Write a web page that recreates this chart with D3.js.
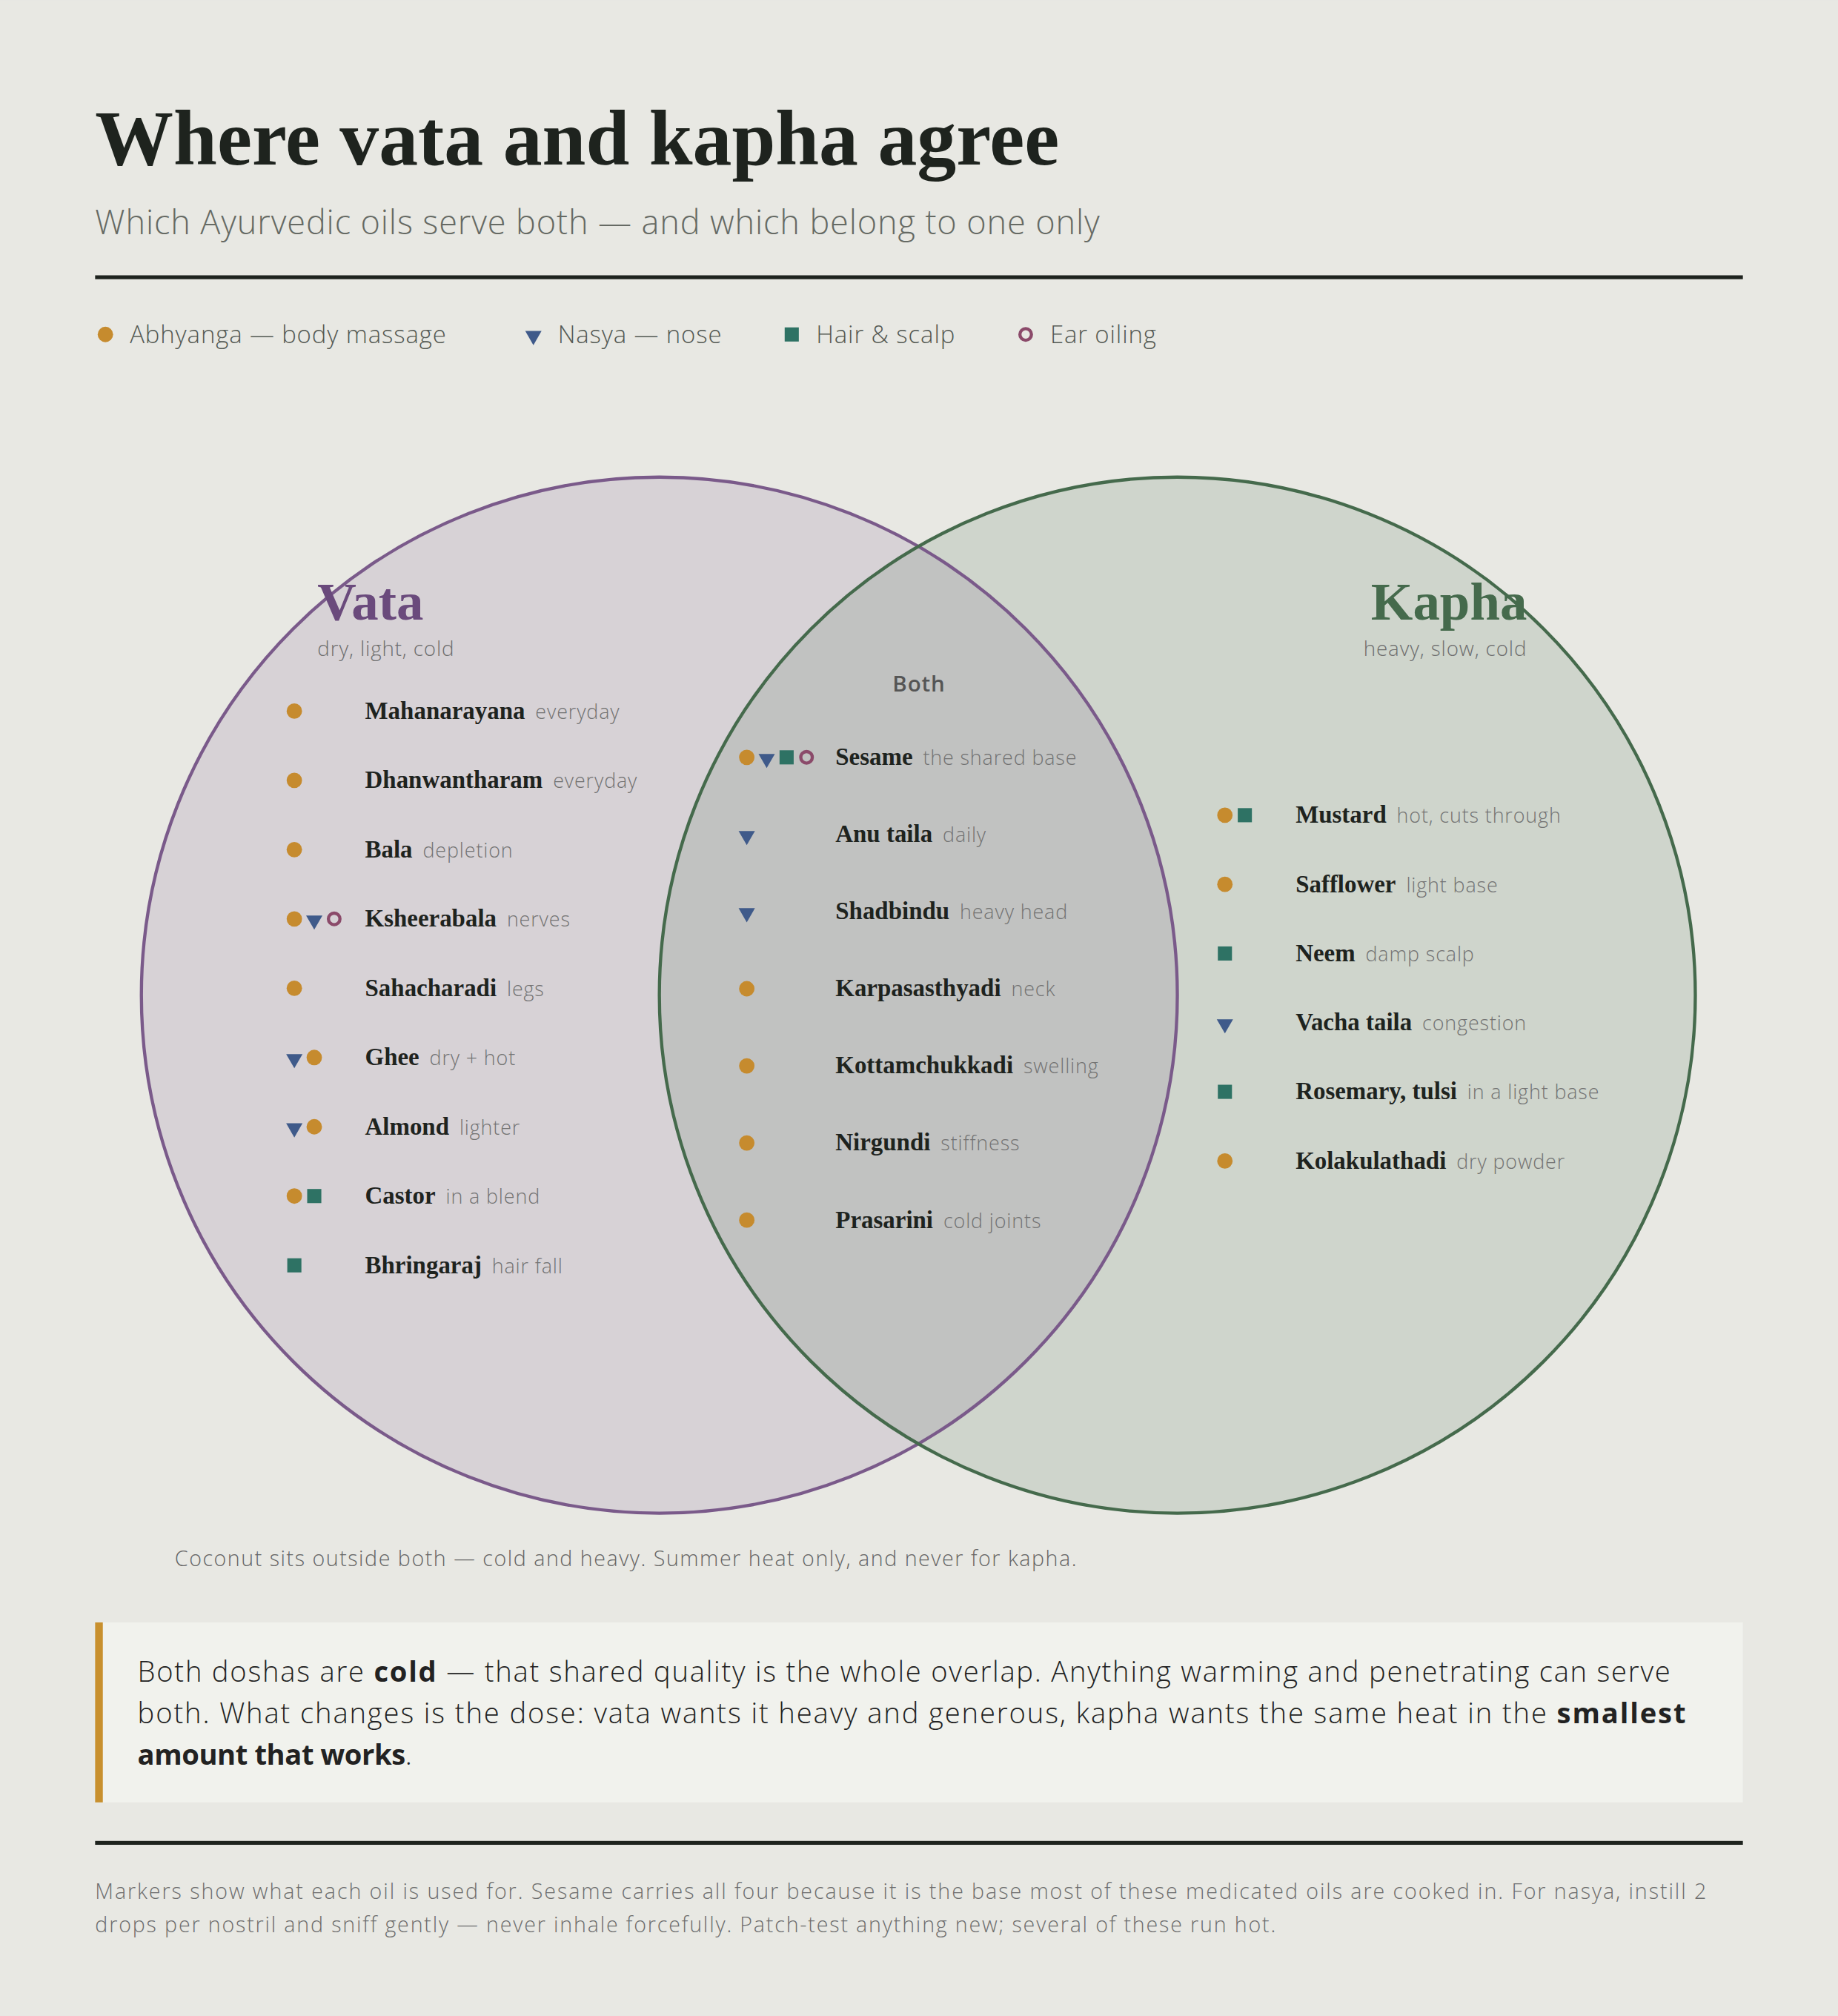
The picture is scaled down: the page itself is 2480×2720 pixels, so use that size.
<!DOCTYPE html>
<html><head><meta charset="utf-8">
<script src="https://cdn.jsdelivr.net/npm/d3@7"></script>
<style>
body{margin:0;background:#e8e8e3;}
.serif{font-family:"Liberation Serif","DejaVu Serif",serif;}
.sans{font-family:"Open Sans",Lato,sans-serif;letter-spacing:0.5px;}
</style></head>
<body><div id="chart"></div>
<script>
// marker codes: a = abhyanga, n = nasya, h = hair, e = ear
var legendKeys = ["a", "n", "h", "e"];
var legendLabels = ["Abhyanga — body massage", "Nasya — nose", "Hair & scalp", "Ear oiling"];

var vataNames = ["Mahanarayana", "Dhanwantharam", "Bala", "Ksheerabala", "Sahacharadi", "Ghee", "Almond", "Castor", "Bhringaraj"];
var vataNotes = ["everyday", "everyday", "depletion", "nerves", "legs", "dry + hot", "lighter", "in a blend", "hair fall"];
var vataUses = [["a"], ["a"], ["a"], ["a", "n", "e"], ["a"], ["n", "a"], ["n", "a"], ["a", "h"], ["h"]];

var bothNames = ["Sesame", "Anu taila", "Shadbindu", "Karpasasthyadi", "Kottamchukkadi", "Nirgundi", "Prasarini"];
var bothNotes = ["the shared base", "daily", "heavy head", "neck", "swelling", "stiffness", "cold joints"];
var bothUses = [["a", "n", "h", "e"], ["n"], ["n"], ["a"], ["a"], ["a"], ["a"]];

var kaphaNames = ["Mustard", "Safflower", "Neem", "Vacha taila", "Rosemary, tulsi", "Kolakulathadi"];
var kaphaNotes = ["hot, cuts through", "light base", "damp scalp", "congestion", "in a light base", "dry powder"];
var kaphaUses = [["a", "h"], ["a"], ["h"], ["n"], ["h"], ["a"]];

var W = 1430, H = 1568;
var col = {a: "#c68b2e", n: "#3f5a8a", h: "#2e7264", e: "#8b4a6a"};

var svg = d3.select("#chart").append("svg")
    .attr("width", 2480).attr("height", 2720)
    .attr("viewBox", "0 0 " + W + " " + H);
svg.append("rect").attr("width", W).attr("height", H).attr("fill", "#e8e8e3");

svg.append("text").attr("class", "serif").attr("x", 74).attr("y", 128)
    .attr("font-size", 61).attr("font-weight", 700).attr("fill", "#1e231e")
    .text("Where vata and kapha agree");
svg.append("text").attr("class", "sans").attr("x", 74).attr("y", 182)
    .attr("font-size", 26).attr("font-weight", 300).attr("fill", "#666a64")
    .text("Which Ayurvedic oils serve both — and which belong to one only");
svg.append("rect").attr("x", 74).attr("y", 214).attr("width", 1282).attr("height", 3).attr("fill", "#1e231e");

function marker(g, k, x, y) {
  if (k === "a") g.append("circle").attr("cx", x).attr("cy", y).attr("r", 6).attr("fill", col.a);
  else if (k === "n") g.append("path").attr("d", d3.symbol(d3.symbolTriangle, 70)()).attr("transform", "translate(" + x + "," + (y + 1) + ") rotate(180)").attr("fill", col.n);
  else if (k === "h") g.append("rect").attr("x", x - 5.5).attr("y", y - 5.5).attr("width", 11).attr("height", 11).attr("fill", col.h);
  else g.append("circle").attr("cx", x).attr("cy", y).attr("r", 4.5).attr("fill", "none").attr("stroke", col.e).attr("stroke-width", 2.5);
}

// legend
var legX = [82, 415, 616, 798];
legendKeys.forEach(function(k, i) {
  var g = svg.append("g");
  marker(g, k, legX[i], 260);
  svg.append("text").attr("class", "sans").attr("x", legX[i] + 19).attr("y", 267)
      .attr("font-size", 19).attr("font-weight", 300).attr("fill", "#555a54").text(legendLabels[i]);
});

// circles
var x = d3.scaleLinear().domain([0, 1]).range([513, 916]);
var R = 403, cy = 774;
svg.append("circle").attr("cx", x(0)).attr("cy", cy).attr("r", R).attr("fill", "#7a5a8a").attr("fill-opacity", 0.15);
svg.append("circle").attr("cx", x(1)).attr("cy", cy).attr("r", R).attr("fill", "#456a4c").attr("fill-opacity", 0.15);
svg.append("circle").attr("cx", x(0)).attr("cy", cy).attr("r", R).attr("fill", "none").attr("stroke", "#7a5a8a").attr("stroke-width", 2.5);
svg.append("circle").attr("cx", x(1)).attr("cy", cy).attr("r", R).attr("fill", "none").attr("stroke", "#456a4c").attr("stroke-width", 2.5);

svg.append("text").attr("class", "serif").attr("x", 247).attr("y", 482).attr("font-size", 42)
    .attr("font-weight", 700).attr("fill", "#6a4a7c").text("Vata");
svg.append("text").attr("class", "sans").attr("x", 247).attr("y", 510).attr("font-size", 16)
    .attr("font-weight", 300).attr("fill", "#6e6e6e").text("dry, light, cold");
svg.append("text").attr("class", "serif").attr("x", 1188).attr("y", 482).attr("font-size", 42).attr("text-anchor", "end")
    .attr("font-weight", 700).attr("fill", "#456a4c").text("Kapha");
svg.append("text").attr("class", "sans").attr("x", 1188).attr("y", 510).attr("font-size", 16).attr("text-anchor", "end")
    .attr("font-weight", 300).attr("fill", "#6e6e6e").text("heavy, slow, cold");
svg.append("text").attr("class", "sans").attr("x", 715).attr("y", 538).attr("font-size", 17).attr("text-anchor", "middle")
    .attr("font-weight", 600).attr("letter-spacing", 1).attr("fill", "#555").text("Both");

function list(names, notes, uses, mx, nx, y0, step) {
  var y = d3.scaleLinear().domain([0, 1]).range([y0, y0 + step]);
  names.forEach(function(n, i) {
    var yy = y(i);
    var g = svg.append("g");
    uses[i].forEach(function(k, j) { marker(g, k, mx + j * 15.5, yy); });
    var t = svg.append("text").attr("x", nx).attr("y", yy + 6);
    t.append("tspan").attr("class", "serif").attr("font-size", 19).attr("font-weight", 700).attr("fill", "#1e231e").text(n);
    t.append("tspan").attr("class", "sans").attr("dx", 8).attr("font-size", 15.5).attr("font-weight", 300).attr("fill", "#737373").text(notes[i]);
  });
}
list(vataNames, vataNotes, vataUses, 229, 284, 553, 53.9);
list(bothNames, bothNotes, bothUses, 581, 650, 589, 60);
list(kaphaNames, kaphaNotes, kaphaUses, 953, 1008, 634, 53.8);

svg.append("text").attr("class", "sans").attr("x", 136).attr("y", 1218).attr("font-size", 16.5)
    .attr("font-weight", 300).attr("fill", "#666").attr("textLength", 702).text("Coconut sits outside both — cold and heavy. Summer heat only, and never for kapha.");

// callout
svg.append("rect").attr("x", 74).attr("y", 1262).attr("width", 1282).attr("height", 140).attr("fill", "#f1f2ed");
svg.append("rect").attr("x", 74).attr("y", 1262).attr("width", 6).attr("height", 140).attr("fill", "#c8902e");
var lines = [
  [["Both doshas are ", 300], ["cold", 700], [" — that shared quality is the whole overlap. Anything warming and penetrating can serve", 300]],
  [["both. What changes is the dose: vata wants it heavy and generous, kapha wants the same heat in the ", 300], ["smallest", 700]],
  [["amount that works", 700], [".", 300]]
];
var lineLen = [1193, 1205, 214];
lines.forEach(function(l, i) {
  var t = svg.append("text").attr("class", "sans").attr("x", 107).attr("y", 1308 + i * 32.5).attr("font-size", 22).attr("fill", "#222")
      .attr("textLength", lineLen[i]).attr("lengthAdjust", "spacing");
  l.forEach(function(p) { t.append("tspan").attr("font-weight", p[1]).text(p[0]); });
});

svg.append("rect").attr("x", 74).attr("y", 1432).attr("width", 1282).attr("height", 3).attr("fill", "#1e231e");
var footLen = [1254, 919];
["Markers show what each oil is used for. Sesame carries all four because it is the base most of these medicated oils are cooked in. For nasya, instill 2",
 "drops per nostril and sniff gently — never inhale forcefully. Patch-test anything new; several of these run hot."].forEach(function(s, i) {
  svg.append("text").attr("class", "sans").attr("x", 74).attr("y", 1477 + i * 26).attr("font-size", 16.5)
      .attr("font-weight", 300).attr("fill", "#6e6e6e").attr("textLength", footLen[i]).attr("lengthAdjust", "spacing").text(s);
});
</script></body></html>
